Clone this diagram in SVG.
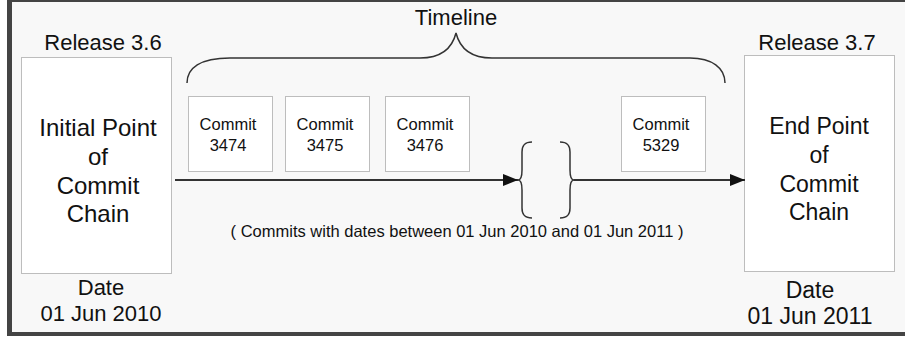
<svg xmlns="http://www.w3.org/2000/svg" width="905" height="345" viewBox="0 0 905 345">
<style>
  text { font-family: "Liberation Sans", Arial, sans-serif; fill: #111; text-anchor: middle; }
  .big { font-size: 22px; }
  .lbox { font-size: 24px; }
  .rbox { font-size: 23px; }
  .small { font-size: 16.5px; }
  .box { fill: #ffffff; stroke: #bdbdbd; stroke-width: 1; }
  .brace { fill: none; stroke: #333; stroke-width: 1.5; }
  .arrow { fill: none; stroke: #333; stroke-width: 2; marker-end: url(#head); }
</style>
<defs>
  <marker id="head" markerWidth="16" markerHeight="12" refX="15" refY="6" orient="auto" markerUnits="userSpaceOnUse">
    <path d="M0,0 L15,6 L0,12 Z" fill="#111"/>
  </marker>
</defs>
<rect x="0" y="0" width="905" height="345" fill="#ffffff"/>
<rect x="7" y="-2" width="900" height="338" fill="#444444"/>
<rect x="12" y="2" width="895" height="330" fill="#f8f8f8"/>

<g id="timeline-label">
  <text class="big" x="456" y="25">Timeline</text>
  <path class="brace" d="M187,83 C187,68 200,58 230,58 L420,58 C445,58 453,45 456,33 C459,45 467,58 492,58 L690,58 C712,58 725,68 725,83"/>
</g>

<g id="release36">
  <text class="big" x="103" y="50">Release 3.6</text>
  <rect class="box" x="21.5" y="57.5" width="150" height="216"/>
  <text class="lbox" x="98" y="136">Initial Point</text>
  <text class="lbox" x="98" y="165">of</text>
  <text class="lbox" x="98" y="194">Commit</text>
  <text class="lbox" x="98" y="222">Chain</text>
  <text class="big" x="101" y="295">Date</text>
  <text class="big" x="101" y="321">01 Jun 2010</text>
</g>

<g id="release37">
  <text class="big" x="817" y="50">Release 3.7</text>
  <rect class="box" x="744.5" y="55.5" width="150" height="216"/>
  <text class="rbox" x="819" y="134">End Point</text>
  <text class="rbox" x="819" y="163">of</text>
  <text class="rbox" x="819" y="192">Commit</text>
  <text class="rbox" x="819" y="220">Chain</text>
  <text class="rbox" x="810" y="298">Date</text>
  <text class="rbox" x="810" y="324">01 Jun 2011</text>
</g>

<g id="commit3474">
  <rect class="box" x="188.5" y="96.5" width="84" height="75"/>
  <text class="small" x="228" y="130">Commit</text>
  <text class="small" x="228" y="151">3474</text>
</g>
<g id="commit3475">
  <rect class="box" x="285.5" y="96.5" width="84" height="75"/>
  <text class="small" x="325" y="130">Commit</text>
  <text class="small" x="325" y="151">3475</text>
</g>
<g id="commit3476">
  <rect class="box" x="385.5" y="96.5" width="84" height="75"/>
  <text class="small" x="425" y="130">Commit</text>
  <text class="small" x="425" y="151">3476</text>
</g>
<g id="commit5329">
  <rect class="box" x="621.5" y="96.5" width="84" height="75"/>
  <text class="small" x="661" y="130">Commit</text>
  <text class="small" x="661" y="151">5329</text>
</g>

<g id="gap">
  <path class="brace" d="M532,142 C524,142 522,146 522,152 L522,170 C522,176 521,180 518,180 C521,180 522,184 522,190 L522,208 C522,214 524,218 532,218"/>
  <path class="brace" d="M560,142 C568,142 570,146 570,152 L570,170 C570,176 571,180 574,180 C571,180 570,184 570,190 L570,208 C570,214 568,218 560,218"/>
  <text class="small" x="457" y="237">( Commits with dates between 01 Jun 2010 and 01 Jun 2011 )</text>
</g>

<g id="connectors">
  <line class="arrow" x1="175" y1="180" x2="518" y2="180"/>
  <line class="arrow" x1="574" y1="180" x2="745" y2="180"/>
</g>
</svg>
